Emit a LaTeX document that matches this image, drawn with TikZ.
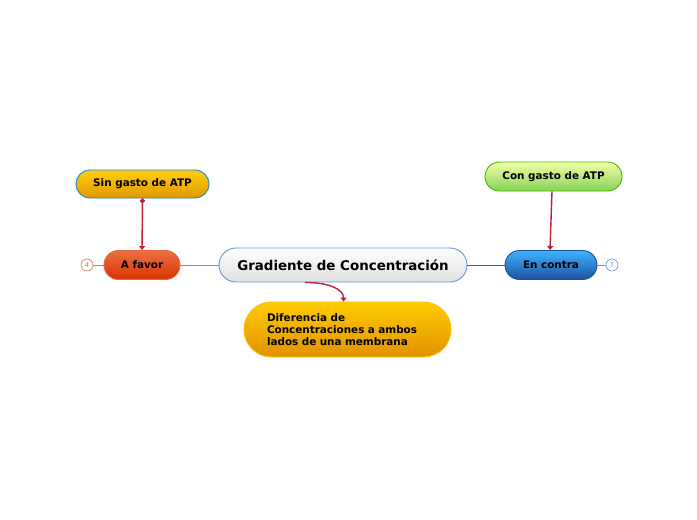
\documentclass[tikz,border=0pt]{standalone}
\usepackage{fontspec}
\setmainfont{DejaVu Sans}
\usetikzlibrary{shapes.misc,arrows.meta}

\definecolor{linkred}{HTML}{C41E3A}
\definecolor{favorline}{HTML}{E8704A}
\definecolor{contraline}{HTML}{2266C8}

\tikzset{
  topic/.style={rounded rectangle, font=\bfseries\fontsize{10.4}{12.2}\selectfont,
    line width=0.9pt, inner sep=0pt},
  link/.style={linkred, line width=1.4pt, -{Triangle[length=4pt,width=6pt]}},
  count/.style={circle, draw, fill=white, line width=0.6pt, minimum size=12pt,
    inner sep=0pt, font=\fontsize{6.5}{7}\selectfont}
}

\begin{document}
\begin{tikzpicture}[x=1pt,y=-1pt]
\useasboundingbox (0,0) rectangle (697,520);

% main topic
\node[topic, draw=contraline!70, top color=white, bottom color=black!12,
  minimum width=248pt, minimum height=34pt, font=\bfseries\fontsize{13.4}{15}\selectfont]
  (central) at (343,265) {Gradiente de Concentración};

% left branch
\node[topic, draw=favorline!90!red, top color=favorline!90!orange, bottom color=red!55!orange!85!black,
  minimum width=76pt, minimum height=29pt] (favor) at (142,265) {A favor};
\node[topic, draw=cyan!70!blue, top color=orange!40!yellow!95, bottom color=orange!65!yellow!88!black,
  minimum width=133pt, minimum height=28pt] (sin) at (142.5,184) {Sin gasto de ATP};
\node[count, draw=favorline, text=favorline] (n4) at (87,265) {4};

% right branch
\node[topic, draw=contraline!80!black, top color=blue!40!cyan!75, bottom color=contraline!80!black,
  minimum width=92pt, minimum height=29pt] (contra) at (551,265) {En contra};
\node[topic, draw=green!50!olive, top color=green!15!yellow!35, bottom color=green!45!olive!65,
  minimum width=137pt, minimum height=29pt] (con) at (553.5,176.5) {Con gasto de ATP};
\node[count, draw=contraline!70, text=contraline!70] (n7) at (612,265) {7};

% below
\node[topic, draw=orange!50!yellow, top color=orange!40!yellow, bottom color=orange!70!yellow!88!black,
  minimum width=207pt, minimum height=55pt, align=left, text width=161pt]
  (dif) at (347.5,329.5) {Diferencia de\\Concentraciones a ambos\\lados de una membrana};

% connectors
\draw[favorline, line width=0.6pt] (central.west) -- (favor.east);
\draw[contraline, line width=0.6pt] (central.east) -- (contra.west);
\draw[favorline, line width=0.6pt] (n4) -- (favor.west);
\draw[contraline!70, line width=0.6pt] (n7) -- (contra.east);
\draw[link, {Circle[length=5pt]}-{Triangle[length=4pt,width=6pt]}] (sin.south) -- (favor.north);
\draw[link] ([xshift=-1.5pt]con.south) -- ([xshift=-1pt]contra.north);
\draw[link] ([xshift=-38pt]central.south) .. controls +(25,0) and +(0,-12) .. ([xshift=-4pt]dif.north);
\end{tikzpicture}
\end{document}
